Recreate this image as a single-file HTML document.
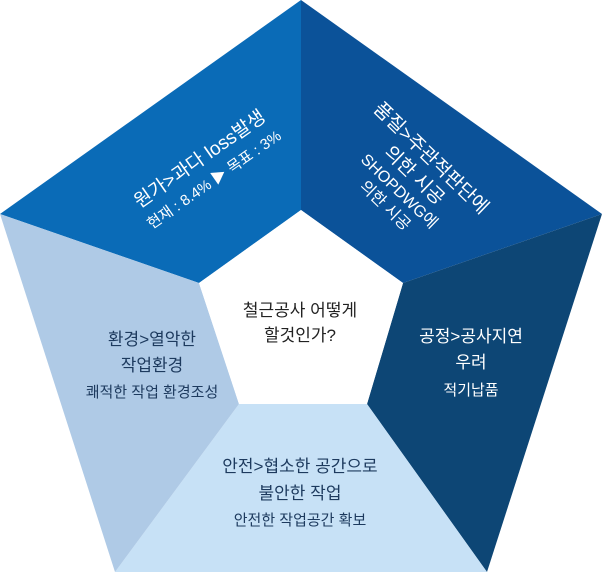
<!DOCTYPE html>
<html><head><meta charset="utf-8"><style>
body{margin:0;width:602px;height:572px;overflow:hidden;background:#fff;font-family:"Liberation Sans","Noto Sans CJK KR",sans-serif}
svg{position:absolute;left:0;top:0}
.t{position:absolute;text-align:center;white-space:nowrap;transform-origin:center center}
</style></head><body>
<svg width="602" height="572">
<polygon points="301,0 301,210 199,283 0,214" fill="#0a6bb7"/>
<polygon points="301,0 602,214 403,283 301,210" fill="#0b5299"/>
<polygon points="602,214 487,572 367,404 403,283" fill="#0d4675"/>
<polygon points="487,572 115,572 239,404 367,404" fill="#c7e1f6"/>
<polygon points="115,572 0,214 199,283 239,404" fill="#afcae6"/>
<polygon points="301,210 403,283 367,404 239,404 199,283" fill="#fff"/>
</svg>
<div class="t" style="left:97px;top:144px;width:220px;color:#fff;transform:rotate(-35deg)">
<div style="font-size:19px;line-height:27px">원가&gt;과다 loss발생</div>
<div style="font-size:15px;line-height:24px">현재 : 8.4% ▶ 목표 : 3%</div></div>
<div class="t" style="left:308px;top:138px;width:200px;color:#fff;transform:rotate(44deg)">
<div style="font-size:19px;line-height:24px">품질&gt;주관적판단에<br>의한 시공</div>
<div style="font-size:16px;line-height:20px">SHOPDWG에<br>의한 시공</div></div>
<div class="t" style="left:400px;top:324px;width:142px;color:#fff">
<div style="font-size:17px;line-height:26px">공정&gt;공사지연<br>우려</div>
<div style="font-size:15px;line-height:30px">적기납품</div></div>
<div class="t" style="left:62px;top:327px;width:180px;color:#1d3a5e">
<div style="font-size:17px;line-height:26px">환경&gt;열악한<br>작업환경</div>
<div style="font-size:15px;line-height:28px">쾌적한 작업 환경조성</div></div>
<div class="t" style="left:180px;top:453px;width:240px;color:#1d3a5e">
<div style="font-size:17px;line-height:27px">안전&gt;협소한 공간으로<br>불안한 작업</div>
<div style="font-size:15px;line-height:27px">안전한 작업공간 확보</div></div>
<div class="t" style="left:220px;top:298px;width:160px;color:#222;font-size:17px;line-height:25px">철근공사 어떻게<br>할것인가?</div>
</body></html>
